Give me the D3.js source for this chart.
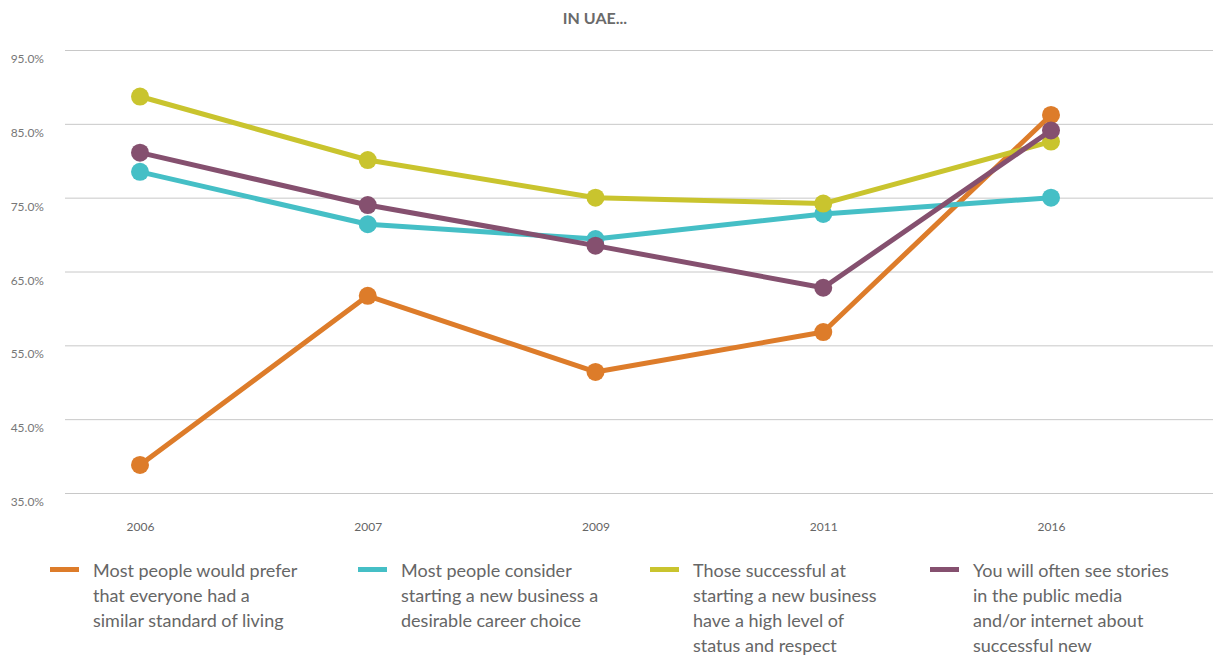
<!DOCTYPE html>
<html><head><meta charset="utf-8">
<script src="https://cdnjs.cloudflare.com/ajax/libs/d3/7.8.5/d3.min.js"></script>
<style>body{margin:0;background:#fff;}svg{display:block;font-family:Lato,"Open Sans",sans-serif;}</style>
</head><body><svg id="c" width="1213" height="656"></svg>
<script>
const years = ["2006","2007","2009","2011","2016"];
const yTicks = [35,45,55,65,75,85,95];
const seriesNames = [
  ["Most people would prefer","that everyone had a","similar standard of living"],
  ["Most people consider","starting a new business a","desirable career choice"],
  ["Those successful at","starting a new business","have a high level of","status and respect"],
  ["You will often see stories","in the public media","and/or internet about","successful new"]
];
const colors = ["#DD7C2A","#45BFC6","#C9C42E","#85506F"];
const preferSimilar = [38.8,61.7,51.4,56.8,86.2];
const desirableCareer = [78.5,71.4,69.4,72.8,75.0];
const highStatus = [88.7,80.1,75.0,74.2,82.6];
const mediaStories = [81.1,74.0,68.5,62.8,84.1];
const seriesValues = [preferSimilar,desirableCareer,highStatus,mediaStories];

const svg = d3.select("#c");
const x = d3.scalePoint().domain(years).range([140,1051]);
const y = d3.scaleLinear().domain([35,95]).range([493,50]);

svg.append("text").attr("x",595).attr("y",24).attr("text-anchor","middle")
  .attr("font-size",16).attr("font-weight","bold").attr("fill","#6a6a6a").text("IN UAE...");

const yAxis = svg.append("g").attr("transform","translate(65,0)")
  .call(d3.axisLeft(y).tickValues(yTicks).tickSize(-1148).tickFormat(d=>d.toFixed(1)+"%"));
yAxis.select(".domain").remove();
yAxis.selectAll("line").attr("stroke","#c8c8c8").attr("stroke-width",1);
yAxis.selectAll("text").attr("x",-21).attr("dy","1.05em").attr("fill","#777").attr("font-size",12).attr("font-family","Lato,sans-serif");

const xAxis = svg.append("g").attr("transform","translate(0,493)")
  .call(d3.axisBottom(x).tickSize(0));
xAxis.select(".domain").remove();
xAxis.selectAll("text").attr("dy",0).attr("y",38).attr("fill","#666").attr("font-size",12).attr("font-family","Lato,sans-serif");

const line = d3.line().x((d,i)=>x(years[i])).y(d=>y(d));
seriesValues.forEach((vals,s)=>{
  const g = svg.append("g");
  g.append("path").attr("d",line(vals)).attr("fill","none").attr("stroke",colors[s]).attr("stroke-width",5).attr("stroke-linejoin","round");
  g.selectAll("circle").data(vals).join("circle")
    .attr("cx",(d,i)=>x(years[i])).attr("cy",d=>y(d)).attr("r",9).attr("fill",colors[s]);
});

const legX = [50,358,650,930];
seriesNames.forEach((lines,s)=>{
  const g = svg.append("g").attr("transform",`translate(${legX[s]},0)`);
  g.append("rect").attr("x",0).attr("y",567).attr("width",29).attr("height",5).attr("fill",colors[s]);
  lines.forEach((t,k)=>{
    g.append("text").attr("x",43).attr("y",577+k*25).attr("font-size",18).attr("fill","#666").text(t);
  });
});
</script></body></html>
